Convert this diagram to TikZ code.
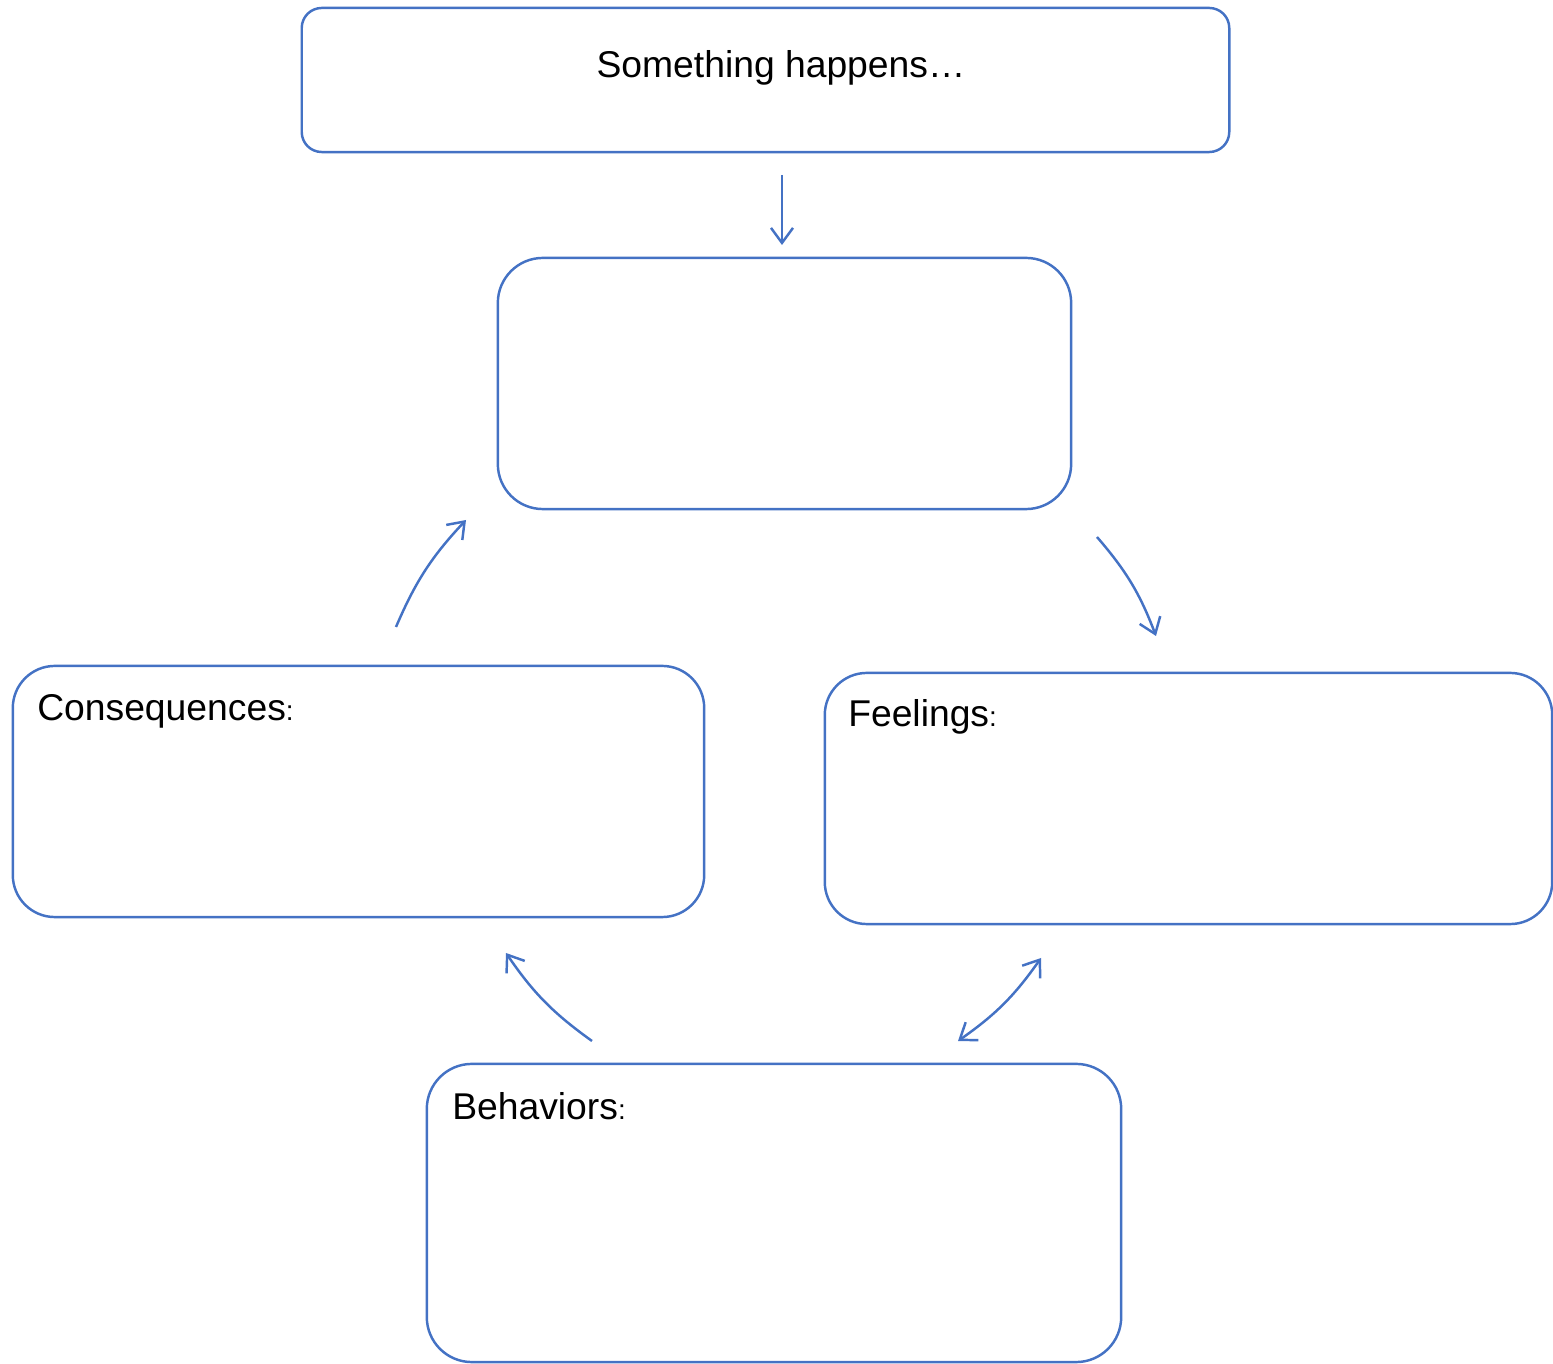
\documentclass[tikz,border=0pt]{standalone}
\usepackage{fontspec}
\setmainfont{Liberation Sans}
\usetikzlibrary{arrows.meta}
\definecolor{frame}{HTML}{4472C4}
\begin{document}
\begin{tikzpicture}[x=0.01cm,y=-0.01cm,
  box/.style={draw=frame,line width=0.7pt,inner sep=0pt,rectangle},
  lbl/.style={inner sep=0pt,anchor=base west,font=\fontsize{10.6pt}{12pt}\selectfont},
  conn/.style={draw=frame,line width=0.7pt,-{Straight Barb[length=1.5mm,width=2.2mm]}},
  dconn/.style={draw=frame,line width=0.7pt,{Straight Barb[length=1.5mm,width=2.2mm]}-{Straight Barb[length=1.5mm,width=2.2mm]}}]
\useasboundingbox (0,0) rectangle (1553,1364);
\newcommand\colonmark{{\fontsize{7.9pt}{9pt}\selectfont:}}
% boxes
\node[box,rounded corners=0.2cm,minimum width=9.27cm,minimum height=1.44cm] (event) at (765.5,80) {};
\node[box,rounded corners=0.45cm,minimum width=5.73cm,minimum height=2.51cm] (thoughts) at (784.5,383.5) {};
\node[box,rounded corners=0.42cm,minimum width=6.91cm,minimum height=2.51cm] (cons) at (358.5,791.5) {};
\node[box,rounded corners=0.42cm,minimum width=7.27cm,minimum height=2.51cm] (feel) at (1188.5,798.5) {};
\node[box,rounded corners=0.45cm,minimum width=6.94cm,minimum height=2.98cm] (beh) at (774,1213) {};
% texts
\node[inner sep=0pt,anchor=base,font=\fontsize{10.6pt}{12pt}\selectfont] (eventtext) at (781,78) {Something happens…};
\node[lbl] (constext) at ([shift={(25,56)}]cons.north west) {Consequences\colonmark};
\node[lbl] (feeltext) at ([shift={(24,55)}]feel.north west) {Feelings\colonmark};
\node[lbl] (behtext) at ([shift={(26,57)}]beh.north west) {Behaviors\colonmark};
% connector ends
\coordinate (a1) at (782,175);  \coordinate (a2) at (782,245);
\coordinate (b1) at (1097,537); \coordinate (b2) at (1156,636);
\coordinate (c1) at (396,627);  \coordinate (c2) at (466,520);
\coordinate (d1) at (592,1041); \coordinate (d2) at (506,953);
\coordinate (e1) at (958,1041); \coordinate (e2) at (1041,958);
% connectors
\draw[conn] (a1) -- (a2);
\draw[conn] (b1) to[bend left=10] (b2);
\draw[conn] (c1) to[bend left=10] (c2);
\draw[conn] (d1) to[bend left=10] (d2);
\draw[dconn] (e1) to[bend right=10] (e2);
\end{tikzpicture}
\end{document}
